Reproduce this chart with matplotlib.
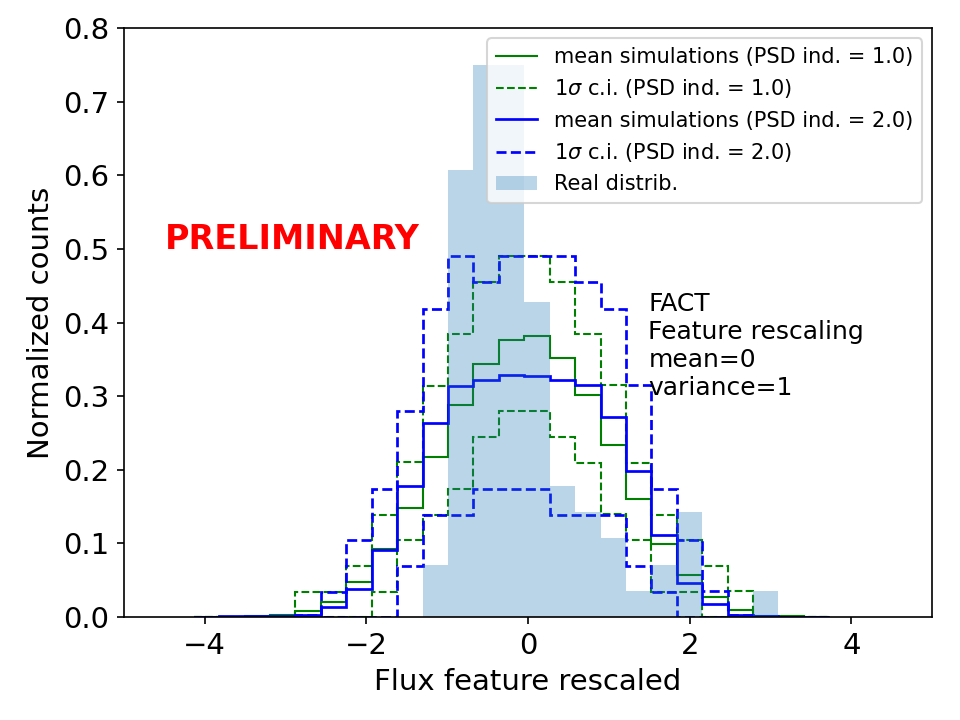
import numpy as np
import matplotlib
matplotlib.use("Agg")
import matplotlib.pyplot as plt

# Bin edges (25 bins)
bin_start = -4.135
bin_width = 0.3145
n_bins = 25
edges = bin_start + bin_width * np.arange(n_bins + 1)

real_distrib = [0, 0, 0, 0, 0, 0, 0, 0, 0, 0.071, 0.607, 0.750, 0.750, 0.428,
                0.178, 0.143, 0.107, 0.036, 0.071, 0.143, 0, 0, 0.036, 0, 0]

mean_psd1 = [0.0005, 0.0005, 0.001, 0.003, 0.008, 0.020, 0.0476, 0.092, 0.1486,
             0.2174, 0.2876, 0.3433, 0.376, 0.3814, 0.3524, 0.302, 0.234, 0.161,
             0.0997, 0.0576, 0.027, 0.009, 0.002, 0.001, 0.0]
upper_psd1 = [0, 0, 0, 0, 0.034, 0.034, 0.069, 0.139, 0.210, 0.314, 0.384, 0.4545,
              0.490, 0.490, 0.4545, 0.384, 0.315, 0.209, 0.139, 0.104, 0.069, 0.035,
              0, 0, 0]
lower_psd1 = [0, 0, 0, 0, 0, 0, 0, 0.034, 0.104, 0.139, 0.1745, 0.2446, 0.2795,
              0.2795, 0.2446, 0.209, 0.1405, 0.104, 0.034, 0.034, 0, 0, 0, 0, 0]

mean_psd2 = [0.0005, 0.001, 0.001, 0.002, 0.003, 0.013, 0.0385, 0.091, 0.178,
             0.264, 0.3139, 0.3216, 0.3284, 0.327, 0.3216, 0.3157, 0.2717, 0.198,
             0.112, 0.0467, 0.018, 0.003, 0.001, 0.0005, 0.0]
upper_psd2 = [0, 0, 0, 0, 0.003, 0.034, 0.104, 0.1745, 0.280, 0.419, 0.490, 0.4545,
              0.490, 0.490, 0.490, 0.4545, 0.419, 0.315, 0.1745, 0.105, 0.035, 0.003,
              0, 0, 0]
lower_psd2 = [0, 0, 0, 0, 0, 0, 0, 0, 0.070, 0.139, 0.139, 0.1745, 0.1745, 0.1745,
              0.139, 0.139, 0.139, 0.069, 0.034, 0, 0, 0, 0, 0, 0]

plt.rcParams['font.family'] = ['DejaVu Sans']
fig = plt.figure(figsize=(6.4, 4.8), dpi=150)
ax = fig.add_axes([0.129, 0.143, 0.842, 0.818])

lw_g = 1.0
lw_b = 1.3
ax.stairs(mean_psd1, edges, color='green', lw=lw_g, label='mean simulations (PSD ind. = 1.0)')
ax.stairs(upper_psd1, edges, color='green', lw=lw_g, ls='--', label=r'1$\sigma$ c.i. (PSD ind. = 1.0)')
ax.stairs(lower_psd1, edges, color='green', lw=lw_g, ls='--')
ax.stairs(mean_psd2, edges, color='blue', lw=lw_b, label='mean simulations (PSD ind. = 2.0)')
ax.stairs(upper_psd2, edges, color='blue', lw=lw_b, ls='--', label=r'1$\sigma$ c.i. (PSD ind. = 2.0)')
ax.stairs(lower_psd2, edges, color='blue', lw=lw_b, ls='--')
ax.stairs(real_distrib, edges, fill=True, color='#1f77b4', alpha=0.3, lw=0, label='Real distrib.')

ax.set_xlim(-5, 5)
ax.set_ylim(0, 0.8)
ax.set_xticks([-4, -2, 0, 2, 4])
ax.set_yticks(np.arange(0, 0.81, 0.1))
ax.tick_params(labelsize=14)
ax.set_xlabel('Flux feature rescaled', fontsize=14)
ax.set_ylabel('Normalized counts', fontsize=14)

ax.text(-4.49, 0.50, 'PRELIMINARY', color='red', fontsize=16, fontweight='bold')
ax.text(1.49, 0.295, 'FACT\nFeature rescaling\nmean=0\nvariance=1', fontsize=12,
        va='bottom', linespacing=1.2)

ax.legend(loc='upper right', fontsize=10)

fig.savefig('out.png', dpi=150)
